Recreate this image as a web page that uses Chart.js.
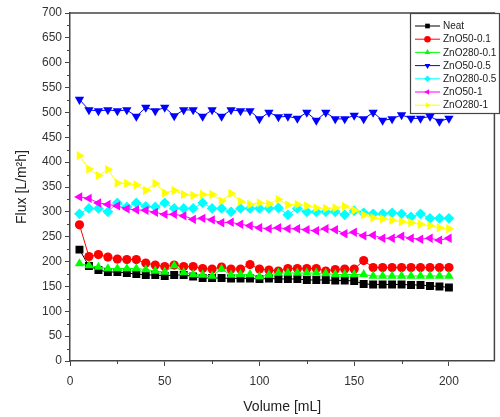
<!DOCTYPE html>
<html><head><meta charset="utf-8">
<script src="https://cdn.jsdelivr.net/npm/chart.js@4/dist/chart.umd.min.js"></script>
<style>html,body{margin:0;padding:0;background:#fff;}#wrap{width:500px;height:417px;}</style>
</head><body><div id="wrap"><canvas id="c" width="500" height="417"></canvas></div>
<script>
const volume = [5,10,15,20,25,30,35,40,45,50,55,60,65,70,75,80,85,90,95,100,105,110,115,120,125,130,135,140,145,150,155,160,165,170,175,180,185,190,195,200];
const neat      = [224,191,183,179,179,177,175,173,173,171,173,173,170,167,167,167,166,166,166,165,166,165,165,165,163,163,163,162,162,161,155,154,154,154,154,153,153,151,150,148];
const zno50_01  = [274,210,214,209,205,204,204,197,193,190,193,190,190,186,185,189,185,185,194,185,183,181,186,186,186,186,181,184,185,185,202,188,188,188,188,188,188,188,188,188];
const zno280_01 = [196,192,189,186,186,186,186,184,181,179,192,178,174,173,171,185,173,174,174,170,173,177,177,177,177,177,176,174,174,174,174,171,171,171,171,171,171,171,171,171];
const zno50_05  = [526,505,503,505,503,505,492,510,503,510,493,505,505,492,505,492,505,503,503,487,500,491,492,488,500,484,500,487,487,494,487,500,484,487,495,488,488,492,482,488];
const zno280_05 = [296,307,307,300,318,310,318,311,310,318,307,307,307,318,307,307,300,307,307,307,307,308,294,307,300,300,300,300,294,302,298,296,296,298,296,290,296,287,287,287];
const zno50_1   = [330,327,318,315,312,306,304,303,299,295,295,292,285,287,284,278,279,275,272,268,266,268,266,266,264,262,266,264,256,259,252,253,247,247,251,247,245,247,243,247];
const zno280_1  = [413,386,373,385,358,357,354,343,357,338,343,335,333,335,335,322,337,321,315,318,316,325,314,315,312,308,307,308,311,303,294,288,286,283,280,278,275,272,268,266];
const seriesLabels = ['Neat','ZnO50-0.1','ZnO280-0.1','ZnO50-0.5','ZnO280-0.5','ZnO50-1','ZnO280-1'];
const seriesValues = [neat, zno50_01, zno280_01, zno50_05, zno280_05, zno50_1, zno280_1];
const xTicks = [0,50,100,150,200];
const yTicks = [0,50,100,150,200,250,300,350,400,450,500,550,600,650,700];

const colors = ['#000000','#ff0000','#00ff00','#0000ff','#00ffff','#ff00ff','#ffff00'];
const styles = ['rect','circle','triangle','triangle','rectRot','triangle','triangle'];
const rots = [0,0,0,180,0,-90,90];
const radii = [5.6,4.6,5.4,5.4,5.4,5.4,5.4];
const FONT = "'Liberation Sans', Arial, sans-serif";

const datasets = seriesValues.map((vals,i)=>({
  label: seriesLabels[i],
  data: volume.map((v,j)=>({x:v,y:vals[j]})),
  showLine: true,
  borderColor: colors[i],
  backgroundColor: colors[i],
  borderWidth: 1,
  pointStyle: styles[i],
  rotation: rots[i],
  pointRadius: radii[i],
  pointBorderWidth: 0,
  pointBackgroundColor: colors[i],
  pointBorderColor: colors[i],
  order: 7-i
}));

const frame = {
  id:'frame',
  afterDraw(chart){
    const {ctx, chartArea:a, scales:{x,y}} = chart;
    ctx.save();
    ctx.strokeStyle = '#444'; ctx.lineWidth = 1.5;
    ctx.beginPath();
    ctx.moveTo(a.left, a.top); ctx.lineTo(a.right, a.top); ctx.lineTo(a.right, a.bottom);
    ctx.stroke();
    ctx.lineWidth = 1;
    ctx.beginPath();
    for (let i=0;i<yTicks.length-1;i++){
      const py = Math.round(y.getPixelForValue((yTicks[i]+yTicks[i+1])/2))+0.5;
      ctx.moveTo(a.left-3, py); ctx.lineTo(a.left, py);
    }
    for (let i=0;i<xTicks.length-1;i++){
      const px = Math.round(x.getPixelForValue((xTicks[i]+xTicks[i+1])/2))+0.5;
      ctx.moveTo(px, a.bottom); ctx.lineTo(px, a.bottom+3);
    }
    ctx.stroke();
    const bx=410.5, by=13.5, bw=89, bh=100;
    ctx.fillStyle='#fff'; ctx.fillRect(bx,by,bw,bh);
    ctx.strokeStyle='#444'; ctx.lineWidth=1.2; ctx.strokeRect(bx,by,bw,bh);
    ctx.font = '10px '+FONT; ctx.textBaseline='middle'; ctx.textAlign='left';
    chart.data.datasets.forEach((ds,i)=>{
      const ly = 26 + i*13.2;
      ctx.strokeStyle = ds.borderColor; ctx.lineWidth=1;
      ctx.beginPath(); ctx.moveTo(415,ly); ctx.lineTo(440,ly); ctx.stroke();
      ctx.fillStyle = ds.borderColor;
      Chart.helpers.drawPoint(ctx,{pointStyle:ds.pointStyle,rotation:ds.rotation,radius:3.3,borderWidth:0},427.5,ly);
      ctx.fillStyle='#222';
      ctx.fillText(ds.label, 443, ly+0.5);
    });
    ctx.restore();
  }
};

new Chart(document.getElementById('c'),{
  type:'scatter',
  data:{datasets},
  plugins:[frame],
  options:{
    responsive:false, animation:false, devicePixelRatio:1,
    layout:{padding:{top:13,right:1,left:0,bottom:0}},
    plugins:{legend:{display:false},tooltip:{enabled:false}},
    scales:{
      x:{type:'linear',min:0,max:224,position:'bottom',
        afterBuildTicks:s=>{s.ticks=xTicks.map(v=>({value:v}));},
        afterFit:s=>{s.height=56;},
        grid:{drawOnChartArea:false,drawTicks:true,tickLength:5,color:'#444',tickColor:'#444'},
        border:{display:true,color:'#444',width:1.5},
        ticks:{color:'#333',font:{family:FONT,size:12},padding:8,maxRotation:0},
        title:{display:true,text:'Volume [mL]',color:'#222',font:{family:FONT,size:14},padding:{top:4,bottom:1}}
      },
      y:{type:'linear',min:0,max:700,
        afterBuildTicks:s=>{s.ticks=yTicks.map(v=>({value:v}));},
        afterFit:s=>{s.width=70;},
        grid:{drawOnChartArea:false,drawTicks:true,tickLength:5,color:'#444',tickColor:'#444'},
        border:{display:true,color:'#444',width:1.5},
        ticks:{color:'#333',font:{family:FONT,size:12},padding:3},
        title:{display:true,text:'Flux [L/m²h]',color:'#222',font:{family:FONT,size:14},padding:{top:14,bottom:0}}
      }
    }
  }
});
</script></body></html>
